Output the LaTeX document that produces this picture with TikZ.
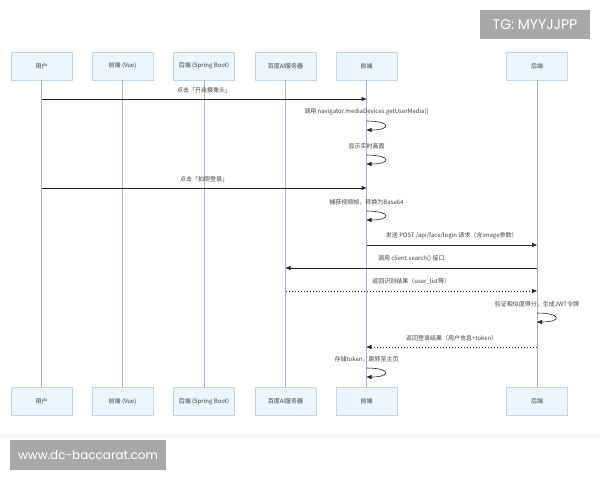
\documentclass[tikz,border=0pt]{standalone}
\usepackage{fontspec}
\setmainfont{Noto Sans CJK SC}
\newfontfamily\markfont{Poppins}
\usetikzlibrary{arrows.meta}

\definecolor{actorfill}{HTML}{EAF5FD}
\definecolor{actorline}{HTML}{C3D7E6}
\definecolor{lifegray}{HTML}{A9B4D6}
\definecolor{markgray}{HTML}{A8A8A8}
\definecolor{bandgray}{HTML}{F4F5FA}

\tikzset{
  actor/.style={draw=actorline,fill=actorfill,minimum width=61pt,minimum height=28pt,
    inner sep=0pt,font=\fontsize{6}{7}\selectfont,text=black!75},
  lifeline/.style={draw=lifegray,line width=0.8pt},
  msg/.style={draw=black!85,line width=0.6pt,-{Triangle[length=5pt,width=4pt]}},
  reply/.style={msg,dash pattern=on 1.5pt off 1.5pt},
  msglabel/.style={font=\fontsize{6}{7}\selectfont,text=black!75,inner sep=0pt},
  watermark/.style={fill=markgray,text=white,inner sep=0pt}
}

\begin{document}
\begin{tikzpicture}[x=1pt,y=-1pt]
    \useasboundingbox (0,0) rectangle (600,480);

    % The participants on top
    \node[actor] (user)   at (41.5,66)  {用户};
    \node[actor] (vue)    at (122.5,66) {前端 (Vue)};
    \node[actor] (spring) at (204,66)   {后端 (Spring Boot)};
    \node[actor] (baidu)  at (285.5,66) {百度AI服务器};
    \node[actor] (front)  at (366.5,66) {前端};
    \node[actor] (back)   at (537,66)   {后端};

    % The participants at the bottom
    \node[actor] (user-b)   at (41.5,401.5)  {用户};
    \node[actor] (vue-b)    at (122.5,401.5) {前端 (Vue)};
    \node[actor] (spring-b) at (204,401.5)   {后端 (Spring Boot)};
    \node[actor] (baidu-b)  at (285.5,401.5) {百度AI服务器};
    \node[actor] (front-b)  at (366.5,401.5) {前端};
    \node[actor] (back-b)   at (537,401.5)   {后端};

    % The life lines
    \draw[lifeline] (user) -- (user-b);
    \draw[lifeline] (vue) -- (vue-b);
    \draw[lifeline] (spring) -- (spring-b);
    \draw[lifeline] (baidu) -- (baidu-b);
    \draw[lifeline] (front) -- (front-b);
    \draw[lifeline] (back) -- (back-b);

    % The rows of the messages
    \coordinate (r1) at (0,99);
    \coordinate (r2) at (0,121);  \coordinate (r2b) at (0,130);
    \coordinate (r3) at (0,155);  \coordinate (r3b) at (0,164);
    \coordinate (r4) at (0,188);
    \coordinate (r5) at (0,211);  \coordinate (r5b) at (0,220);
    \coordinate (r6) at (0,245);
    \coordinate (r7) at (0,268);
    \coordinate (r8) at (0,291);
    \coordinate (r9) at (0,313);  \coordinate (r9b) at (0,322);
    \coordinate (r10) at (0,347);
    \coordinate (r11) at (0,368); \coordinate (r11b) at (0,377);

    % The messages
    \draw[msg] (user |- r1) -- (front |- r1)
      node[msglabel,midway,above=6pt] (l1) {点击「开启摄像头」};
    \draw[msg] (front |- r2) .. controls +(25,0) and +(25,0) .. (front |- r2b);
    \node[msglabel,above=6pt] (l2) at (front |- r2) {调用 navigator.mediaDevices.getUserMedia()};
    \draw[msg] (front |- r3) .. controls +(25,0) and +(25,0) .. (front |- r3b);
    \node[msglabel,above=6pt] (l3) at (front |- r3) {显示实时画面};
    \draw[msg] (user |- r4) -- (front |- r4)
      node[msglabel,midway,above=6pt] (l4) {点击「拍照登录」};
    \draw[msg] (front |- r5) .. controls +(25,0) and +(25,0) .. (front |- r5b);
    \node[msglabel,above=6pt] (l5) at (front |- r5) {捕获视频帧，转换为Base64};
    \draw[msg] (front |- r6) -- (back |- r6)
      node[msglabel,midway,above=6pt] (l6) {发送 POST /api/face/login 请求（含image参数）};
    \draw[msg] (back |- r7) -- (baidu |- r7)
      node[msglabel,midway,above=6pt] (l7) {调用 client.search() 接口};
    \draw[reply] (baidu |- r8) -- (back |- r8)
      node[msglabel,midway,above=6pt] (l8) {返回识别结果（user\_list等）};
    \draw[msg] (back |- r9) .. controls +(25,0) and +(25,0) .. (back |- r9b);
    \node[msglabel,above=6pt] (l9) at (back |- r9) {验证相似度得分，生成JWT令牌};
    \draw[reply] (back |- r10) -- (front |- r10)
      node[msglabel,midway,above=6pt] (l10) {返回登录结果（用户信息+token）};
    \draw[msg] (front |- r11) .. controls +(25,0) and +(25,0) .. (front |- r11b);
    \node[msglabel,above=6pt] (l11) at (front |- r11) {存储token，跳转至主页};

    % The band and the marks
    \fill[bandgray] (0,434) rectangle (600,438);
    \node[watermark,minimum width=110pt,minimum height=29pt] (tg) at (535,24.5)
      {\markfont\fontsize{14}{16}\selectfont TG: MYYJJPP};
    \node[watermark,minimum width=156pt,minimum height=30pt] (site) at (88,455)
      {\markfont\fontsize{12}{14}\selectfont www.dc-baccarat.com};
\end{tikzpicture}
\end{document}
